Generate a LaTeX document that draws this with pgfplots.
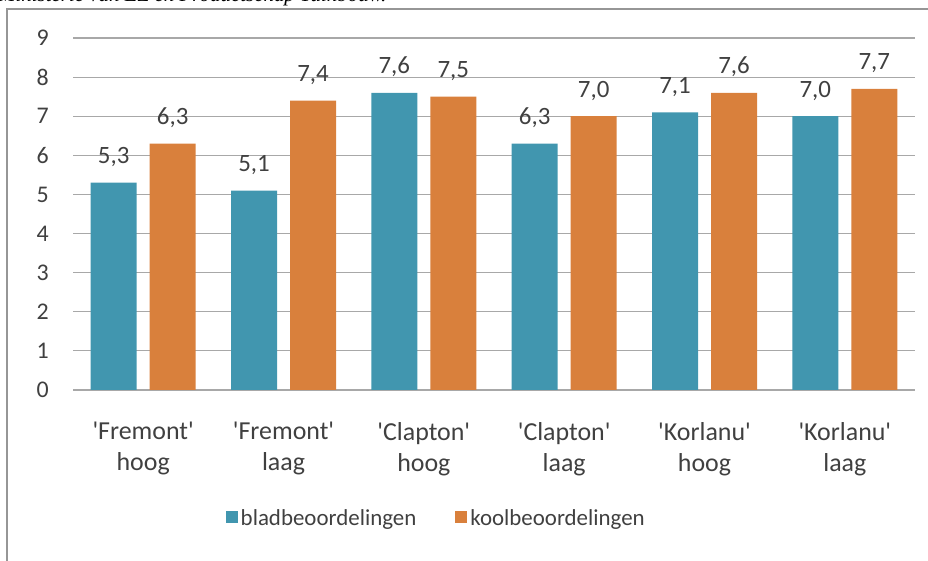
\documentclass[border=0pt]{standalone}
\usepackage{pgfplots}
\pgfplotsset{compat=1.18}
\usepackage{fontspec}
\newfontfamily\cf{Carlito}[Ligatures=TeXOff]
\newfontfamily\tf{Liberation Serif}

\definecolor{blad}{RGB}{65,150,175}
\definecolor{kool}{RGB}{217,128,60}
\definecolor{gridc}{RGB}{168,168,168}
\definecolor{txt}{RGB}{64,64,64}
\definecolor{frame}{RGB}{150,150,150}

\begin{document}
\begin{tikzpicture}[x=1bp,y=1bp]
\begin{scope}
\clip (0,0) rectangle (928,561);
% caption line above the frame
\node[anchor=base west,inner sep=0pt,font=\tf\itshape\fontsize{21}{24}\selectfont]
  at (-2,559.5) {Ministerie van EZ en Productschap Tuinbouw.};
% frame around the chart
\draw[frame,line width=1.5bp] (7,-10) -- (7,552) -- (940,552);

\begin{axis}[
  at={(73bp,171bp)}, anchor=south west,
  scale only axis, width=842bp, height=352bp,
  xmin=-0.5, xmax=5.5, ymin=0, ymax=9,
  ytick={0,...,9},
  xtick=data,
  xticklabels={{'Fremont'\\hoog},{'Fremont'\\laag},{'Clapton'\\hoog},{'Clapton'\\laag},{'Korlanu'\\hoog},{'Korlanu'\\laag}},
  ybar=13bp, bar width=46bp,
  axis line style={draw=none},
  major tick style={draw=none},
  ymajorgrids, grid style={gridc,line width=1.2bp},
  /pgf/number format/assume math mode=true,
  tick label style={inner sep=0pt,text=txt},
  yticklabel style={font=\cf\fontsize{24}{28}\selectfont,xshift=-24bp},
  xticklabel style={font=\cf\fontsize{26}{31}\selectfont,align=center,yshift=-28bp},
  nodes near coords={\pgfmathprintnumber[fixed,fixed zerofill,precision=1,use comma]{\pgfplotspointmeta}},
  every node near coord/.append style={font=\cf\fontsize{25}{28}\selectfont,text=txt,anchor=base,inner sep=0pt,yshift=19bp},
  legend columns=2,
  legend style={at={(0.432,-0.3636)},anchor=center,draw=none,fill=none,
    font=\cf\fontsize{23}{27}\selectfont,text=txt,
    /tikz/every even column/.append style={column sep=36bp},
    nodes={inner xsep=3bp}},
  legend image code/.code={\fill[#1] (0bp,-5bp) rectangle (12bp,7bp);},
]
\addplot[draw=none,fill=blad] coordinates {(0,5.3) (1,5.1) (2,7.6) (3,6.3) (4,7.1) (5,7.0)};
\addplot[draw=none,fill=kool] coordinates {(0,6.3) (1,7.4) (2,7.5) (3,7.0) (4,7.6) (5,7.7)};
\legend{bladbeoordelingen,koolbeoordelingen}
\end{axis}
\end{scope}
\pgfresetboundingbox
\useasboundingbox (0,0) rectangle (928,561);
\end{tikzpicture}
\end{document}
